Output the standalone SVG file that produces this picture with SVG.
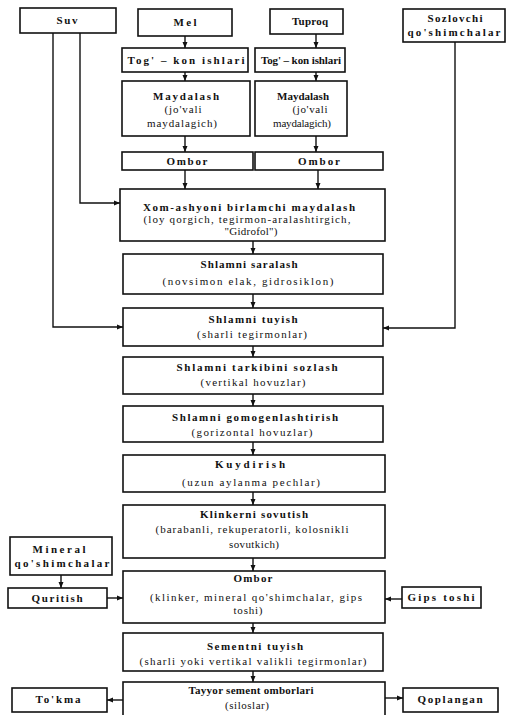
<svg xmlns="http://www.w3.org/2000/svg" width="509" height="715" viewBox="0 0 509 715">
<defs>
<style>
rect{fill:#fff;stroke:#111;stroke-width:1.6}
text{font-family:"Liberation Serif","Times New Roman",serif;font-size:11px;fill:#111;text-anchor:middle}
.b{font-weight:bold}
.c{fill:none;stroke:#111;stroke-width:1.4}
</style>
<marker id="a" markerWidth="6" markerHeight="6" refX="6" refY="3" orient="auto" markerUnits="userSpaceOnUse"><path d="M0,0.5 L6,3 L0,5.5 z" fill="#111"/></marker>
</defs>
<rect x="0" y="0" width="509" height="715" style="fill:#fff;stroke:none"/>
<g id="connectors">
<path class="c" marker-end="url(#a)" d="M185,36 V48"/>
<path class="c" marker-end="url(#a)" d="M316,34 V48"/>
<path class="c" marker-end="url(#a)" d="M185,72 V81"/>
<path class="c" marker-end="url(#a)" d="M316,72 V81"/>
<path class="c" marker-end="url(#a)" d="M185,136 V152"/>
<path class="c" marker-end="url(#a)" d="M316,136 V152"/>
<path class="c" marker-end="url(#a)" d="M185,170 V189"/>
<path class="c" marker-end="url(#a)" d="M318,170 V189"/>
<path class="c" marker-end="url(#a)" d="M253,241 V254"/>
<path class="c" marker-end="url(#a)" d="M253,294 V308"/>
<path class="c" marker-end="url(#a)" d="M253,346 V357"/>
<path class="c" marker-end="url(#a)" d="M253,394 V406"/>
<path class="c" marker-end="url(#a)" d="M253,442 V455"/>
<path class="c" marker-end="url(#a)" d="M253,492 V505"/>
<path class="c" marker-end="url(#a)" d="M253,558 V571"/>
<path class="c" marker-end="url(#a)" d="M253,623 V633"/>
<path class="c" marker-end="url(#a)" d="M253,671 V682"/>
<path class="c" marker-end="url(#a)" d="M80,33 V203 H120"/>
<path class="c" marker-end="url(#a)" d="M53,33 V327 H123"/>
<path class="c" marker-end="url(#a)" d="M455,42 V328 H383"/>
<path class="c" marker-end="url(#a)" d="M61,575 V588"/>
<path class="c" marker-end="url(#a)" d="M107,598 H123"/>
<path class="c" marker-end="url(#a)" d="M402,599 H385"/>
<path class="c" marker-end="url(#a)" d="M123,700 H107"/>
<path class="c" marker-end="url(#a)" d="M385,698 H403"/>
</g>
<g id="suv"><rect x="20" y="8" width="96" height="25"/><text class="b" x="67" y="24" textLength="21" lengthAdjust="spacing">Suv</text></g>
<g id="mel"><rect x="138" y="9" width="94" height="27"/><text class="b" x="185" y="26" textLength="23" lengthAdjust="spacing">Mel</text></g>
<g id="tuproq"><rect x="270" y="9" width="73" height="25"/><text class="b" x="310" y="25" textLength="36" lengthAdjust="spacing">Tuproq</text></g>
<g id="sozlovchi"><rect x="403" y="9" width="102" height="33"/><text class="b" x="455" y="22" textLength="55" lengthAdjust="spacing">Sozlovchi</text><text class="b" x="454" y="36" textLength="93" lengthAdjust="spacing">qo'shimchalar</text></g>
<g id="togkon1"><rect x="122" y="48" width="126" height="24"/><text class="b" x="186" y="64" textLength="117" lengthAdjust="spacing">Tog' – kon ishlari</text></g>
<g id="togkon2"><rect x="255" y="48" width="90" height="24"/><text class="b" x="301" y="64" textLength="80" lengthAdjust="spacing">Tog' – kon ishlari</text></g>
<g id="maydalash1"><rect x="122" y="81" width="128" height="55"/><text class="b" x="186" y="100" textLength="66" lengthAdjust="spacing">Maydalash</text><text x="183" y="113" textLength="37" lengthAdjust="spacing">(jo'vali</text><text x="182" y="127" textLength="70" lengthAdjust="spacing">maydalagich)</text></g>
<g id="maydalash2"><rect x="255" y="81" width="92" height="55"/><text class="b" x="303" y="100" textLength="52" lengthAdjust="spacing">Maydalash</text><text x="310" y="113" textLength="35" lengthAdjust="spacing">(jo'vali</text><text x="302" y="127" textLength="58" lengthAdjust="spacing">maydalagich)</text></g>
<g id="ombor1"><rect x="122" y="152" width="131" height="18"/><text class="b" x="187" y="165" textLength="41" lengthAdjust="spacing">Ombor</text></g>
<g id="ombor2"><rect x="255" y="152" width="128" height="18"/><text class="b" x="319" y="165" textLength="42" lengthAdjust="spacing">Ombor</text></g>
<g id="xomashyo"><rect x="120" y="189" width="265" height="52"/><text class="b" x="249" y="211" textLength="212" lengthAdjust="spacing">Xom-ashyoni birlamchi maydalash</text><text x="247" y="223" textLength="207" lengthAdjust="spacing">(loy qorgich, tegirmon-aralashtirgich,</text><text x="251" y="235" textLength="53" lengthAdjust="spacing">"Gidrofol")</text></g>
<g id="saralash"><rect x="123" y="254" width="260" height="40"/><text class="b" x="249" y="268" textLength="97" lengthAdjust="spacing">Shlamni saralash</text><text x="248" y="285" textLength="171" lengthAdjust="spacing">(novsimon elak, gidrosiklon)</text></g>
<g id="tuyish"><rect x="123" y="308" width="260" height="38"/><text class="b" x="253" y="323" textLength="89" lengthAdjust="spacing">Shlamni tuyish</text><text x="252" y="338" textLength="110" lengthAdjust="spacing">(sharli tegirmonlar)</text></g>
<g id="sozlash"><rect x="123" y="357" width="260" height="37"/><text class="b" x="257" y="371" textLength="161" lengthAdjust="spacing">Shlamni tarkibini sozlash</text><text x="253" y="386" textLength="105" lengthAdjust="spacing">(vertikal hovuzlar)</text></g>
<g id="gomogen"><rect x="123" y="406" width="260" height="36"/><text class="b" x="255" y="421" textLength="166" lengthAdjust="spacing">Shlamni gomogenlashtirish</text><text x="252" y="436" textLength="121" lengthAdjust="spacing">(gorizontal hovuzlar)</text></g>
<g id="kuydirish"><rect x="123" y="455" width="262" height="37"/><text class="b" x="250" y="468" textLength="70" lengthAdjust="spacing">Kuydirish</text><text x="251" y="486" textLength="138" lengthAdjust="spacing">(uzun aylanma pechlar)</text></g>
<g id="klinker"><rect x="123" y="505" width="262" height="53"/><text class="b" x="254" y="518" textLength="108" lengthAdjust="spacing">Klinkerni sovutish</text><text x="252" y="533" textLength="193" lengthAdjust="spacing">(barabanli, rekuperatorli, kolosnikli</text><text x="254" y="548" textLength="50" lengthAdjust="spacing">sovutkich)</text></g>
<g id="mineral"><rect x="10" y="537" width="102" height="38"/><text class="b" x="59" y="553" textLength="53" lengthAdjust="spacing">Mineral</text><text class="b" x="62" y="567" textLength="95" lengthAdjust="spacing">qo'shimchalar</text></g>
<g id="ombor3"><rect x="123" y="571" width="262" height="52"/><text class="b" x="253" y="582" textLength="39" lengthAdjust="spacing">Ombor</text><text x="256" y="601" textLength="212" lengthAdjust="spacing">(klinker, mineral qo'shimchalar, gips</text><text x="248" y="614" textLength="29" lengthAdjust="spacing">toshi)</text></g>
<g id="quritish"><rect x="8" y="588" width="99" height="20"/><text class="b" x="57" y="602" textLength="51" lengthAdjust="spacing">Quritish</text></g>
<g id="gips"><rect x="402" y="587" width="79" height="21"/><text class="b" x="441" y="601" textLength="67" lengthAdjust="spacing">Gips toshi</text></g>
<g id="sement"><rect x="123" y="633" width="260" height="38"/><text class="b" x="255" y="650" textLength="96" lengthAdjust="spacing">Sementni tuyish</text><text x="253" y="665" textLength="227" lengthAdjust="spacing">(sharli yoki vertikal valikli tegirmonlar)</text></g>
<g id="tayyor"><rect x="123" y="682" width="262" height="45"/><text class="b" x="251" y="694" textLength="125" lengthAdjust="spacing">Tayyor sement omborlari</text><text x="247" y="709" textLength="44" lengthAdjust="spacing">(siloslar)</text></g>
<g id="tokma"><rect x="12" y="688" width="95" height="24"/><text class="b" x="58" y="703" textLength="45" lengthAdjust="spacing">To'kma</text></g>
<g id="qoplangan"><rect x="403" y="688" width="95" height="24"/><text class="b" x="450" y="703" textLength="65" lengthAdjust="spacing">Qoplangan</text></g>
</svg>
